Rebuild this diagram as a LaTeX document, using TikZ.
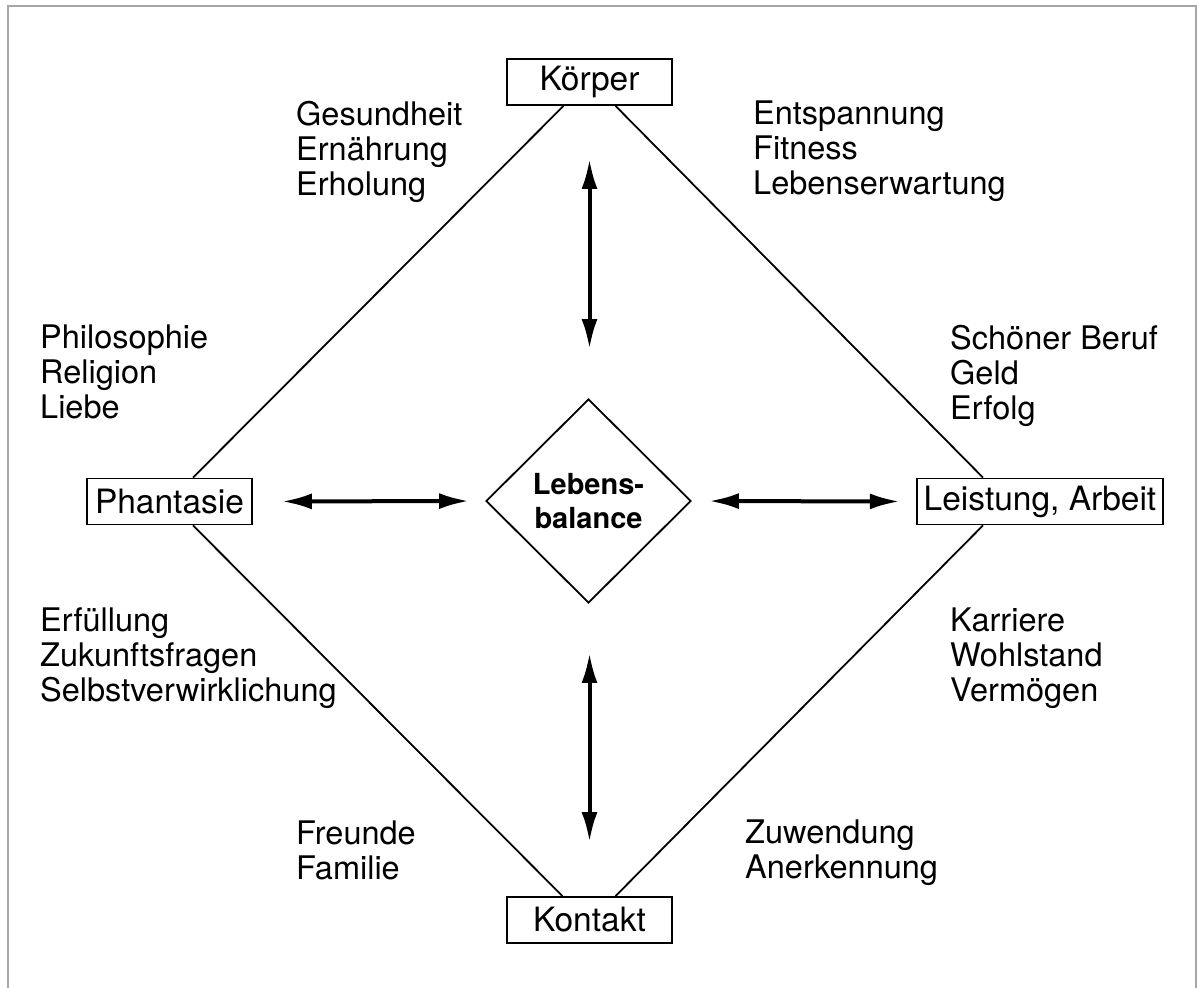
\documentclass[tikz,border=0pt]{standalone}
\usepackage{fontspec}
\setmainfont{TeX Gyre Heros}
\usetikzlibrary{positioning, shapes.geometric, arrows.meta, calc}
\tikzstyle{area} = [rectangle, draw, line width=1.8pt, minimum width=165pt,
    minimum height=46pt, inner sep=7pt, font=\fontsize{33.5}{40}\selectfont]
\tikzstyle{balancebox} = [diamond, draw, line width=1.8pt, minimum width=205pt,
    minimum height=204pt, inner sep=0pt, align=center,
    font=\fontsize{29}{34}\selectfont\bfseries]
\tikzstyle{keywords} = [align=left, anchor=west, inner sep=0pt,
    font=\fontsize{32.5}{35}\selectfont]
\tikzstyle{link} = [line width=1.8pt]
\tikzstyle{pull} = [<->, line width=4pt, >={Latex[length=30pt,width=16pt]}]

\begin{document}
\begin{tikzpicture}[x=1pt, y=-1pt]
                \useasboundingbox (0,0) rectangle (1197,988);
                \draw [gray!70, line width=2pt] (8,988) -- (8,6) -- (1196,6) -- (1196,988);

                % Nodes
                \node [balancebox] (balance) at (588.5,501) {Lebens-\\balance};
                \node [area] (koerper) at (589.5,82) {Körper};
                \node [area] (kontakt) at (589.5,920) {Kontakt};
                \node [area] (phantasie) at (169.5,501.5) {Phantasie};
                \node [area] (leistung) at (1040,501.5) {Leistung, Arbeit};

                % Keywords
                \node [keywords] (gesund) at (296,151.5) {Gesundheit\\Ernährung\\Erholung};
                \node [keywords] (fitness) at (753,151.5) {Entspannung\\Fitness\\Lebenserwartung};
                \node [keywords] (sinn) at (40,372) {Philosophie\\Religion\\Liebe};
                \node [keywords] (beruf) at (950,375.5) {Schöner Beruf\\Geld\\Erfolg};
                \node [keywords] (zukunft) at (40,658.5) {Erfüllung\\Zukunftsfragen\\Selbstverwirklichung};
                \node [keywords] (wohlstand) at (950,658.5) {Karriere\\Wohlstand\\Vermögen};
                \node [keywords] (freunde) at (296,850) {Freunde\\Familie};
                \node [keywords] (zuwendung) at (745,853) {Zuwendung\\Anerkennung};

                % Connections
                \draw [link] ([xshift=-26pt]koerper.south) -- ([xshift=23.5pt]phantasie.north);
                \draw [link] ([xshift=26pt]koerper.south) -- ([xshift=-57pt]leistung.north);
                \draw [link] ([xshift=23.5pt]phantasie.south) -- ([xshift=-27pt]kontakt.north);
                \draw [link] ([xshift=-57pt]leistung.south) -- ([xshift=26pt]kontakt.north);

                % Arrows to the balance
                \draw [pull, shorten <=53pt, shorten >=49pt] (koerper.south) -- (koerper.south |- balance.north);
                \draw [pull, shorten <=49pt, shorten >=54pt] (kontakt.north |- balance.south) -- (kontakt.north);
                \draw [pull, shorten <=29pt, shorten >=16pt] (phantasie.east) -- (balance.west);
                \draw [pull, shorten <=17pt, shorten >=16pt] (balance.east) -- (leistung.west);

            \end{tikzpicture}
\end{document}
